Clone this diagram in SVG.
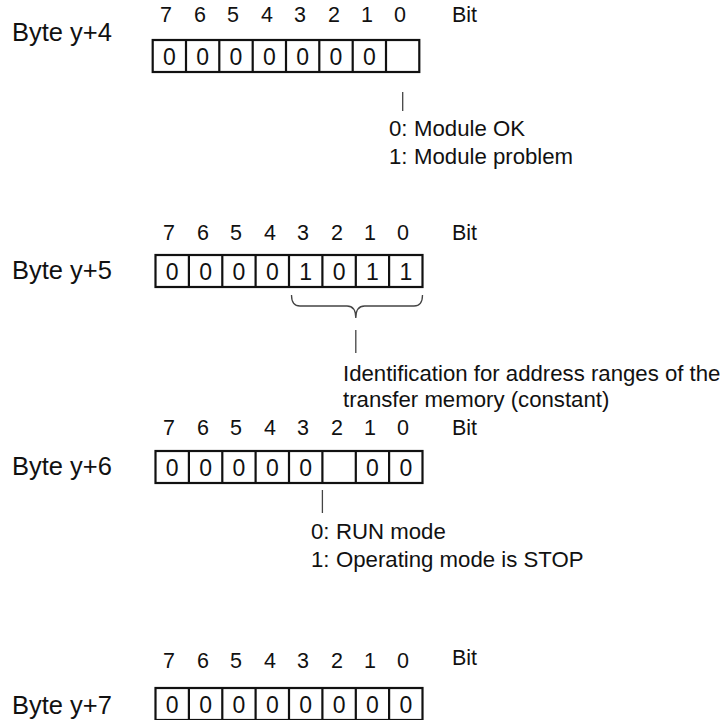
<svg xmlns="http://www.w3.org/2000/svg" width="722" height="720" viewBox="0 0 722 720">
<style>
text{font-family:"Liberation Sans",Arial,sans-serif;fill:#111}
.byte{font-size:25.5px}
.lbl{font-size:21.5px;text-anchor:middle}
.bit{font-size:21.5px}
.val{font-size:23px;text-anchor:middle}
.desc{font-size:22.2px}
.cell{fill:#fff;stroke:#111;stroke-width:2.2}
.conn{fill:none;stroke:#444;stroke-width:1.3}
</style>
<rect width="722" height="720" fill="#fff"/>

<g id="byte4">
<text class="byte" x="12" y="41">Byte y+4</text>
<text class="lbl" x="166" y="22">7</text><text class="lbl" x="200" y="22">6</text><text class="lbl" x="233" y="22">5</text><text class="lbl" x="267" y="22">4</text><text class="lbl" x="300" y="22">3</text><text class="lbl" x="334" y="22">2</text><text class="lbl" x="367" y="22">1</text><text class="lbl" x="400" y="22">0</text>
<text class="bit" x="452" y="22">Bit</text>
<rect class="cell" x="152.7" y="40" width="266.6" height="32"/>
<path class="cell" d="M186 40V72M219.3 40V72M252.7 40V72M286 40V72M319.3 40V72M352.7 40V72M386 40V72"/>
<text class="val" x="169.3" y="64.5">0</text><text class="val" x="202.7" y="64.5">0</text><text class="val" x="236" y="64.5">0</text><text class="val" x="269.3" y="64.5">0</text><text class="val" x="302.7" y="64.5">0</text><text class="val" x="336" y="64.5">0</text><text class="val" x="369.3" y="64.5">0</text>
</g>

<g id="desc4">
<text class="desc" x="389" y="136">0:</text><text class="desc" x="414" y="136">Module OK</text>
<text class="desc" x="389" y="164">1:</text><text class="desc" x="414" y="164">Module problem</text>
</g>

<g id="byte5">
<text class="byte" x="12" y="279">Byte y+5</text>
<text class="lbl" x="169" y="240">7</text><text class="lbl" x="203" y="240">6</text><text class="lbl" x="236" y="240">5</text><text class="lbl" x="270" y="240">4</text><text class="lbl" x="303" y="240">3</text><text class="lbl" x="337" y="240">2</text><text class="lbl" x="370" y="240">1</text><text class="lbl" x="403" y="240">0</text>
<text class="bit" x="452" y="240">Bit</text>
<rect class="cell" x="155.5" y="255" width="267" height="32"/>
<path class="cell" d="M188.9 255V287M222.3 255V287M255.6 255V287M289 255V287M322.4 255V287M355.8 255V287M389.1 255V287"/>
<text class="val" x="172.2" y="279.5">0</text><text class="val" x="205.6" y="279.5">0</text><text class="val" x="239" y="279.5">0</text><text class="val" x="272.3" y="279.5">0</text><text class="val" x="305.7" y="279.5">1</text><text class="val" x="339.1" y="279.5">0</text><text class="val" x="372.5" y="279.5">1</text><text class="val" x="405.8" y="279.5">1</text>
</g>

<g id="desc5">
<text class="desc" x="343" y="381">Identification for address ranges of the</text>
<text class="desc" x="343" y="407">transfer memory (constant)</text>
</g>

<g id="byte6">
<text class="byte" x="12" y="475">Byte y+6</text>
<text class="lbl" x="169" y="435">7</text><text class="lbl" x="203" y="435">6</text><text class="lbl" x="236" y="435">5</text><text class="lbl" x="270" y="435">4</text><text class="lbl" x="303" y="435">3</text><text class="lbl" x="337" y="435">2</text><text class="lbl" x="370" y="435">1</text><text class="lbl" x="403" y="435">0</text>
<text class="bit" x="452" y="435">Bit</text>
<rect class="cell" x="155.5" y="451" width="267" height="32"/>
<path class="cell" d="M188.9 451V483M222.3 451V483M255.6 451V483M289 451V483M322.4 451V483M355.8 451V483M389.1 451V483"/>
<text class="val" x="172.2" y="475.5">0</text><text class="val" x="205.6" y="475.5">0</text><text class="val" x="239" y="475.5">0</text><text class="val" x="272.3" y="475.5">0</text><text class="val" x="305.7" y="475.5">0</text><text class="val" x="372.5" y="475.5">0</text><text class="val" x="405.8" y="475.5">0</text>
</g>

<g id="desc6">
<text class="desc" x="311" y="539">0:</text><text class="desc" x="336" y="539">RUN mode</text>
<text class="desc" x="311" y="567">1:</text><text class="desc" x="336" y="567">Operating mode is STOP</text>
</g>

<g id="byte7">
<text class="byte" x="12" y="714">Byte y+7</text>
<text class="lbl" x="169" y="668">7</text><text class="lbl" x="203" y="668">6</text><text class="lbl" x="236" y="668">5</text><text class="lbl" x="270" y="668">4</text><text class="lbl" x="303" y="668">3</text><text class="lbl" x="337" y="668">2</text><text class="lbl" x="370" y="668">1</text><text class="lbl" x="403" y="668">0</text>
<text class="bit" x="452" y="665">Bit</text>
<rect class="cell" x="155.5" y="688" width="267" height="32"/>
<path class="cell" d="M188.9 688V720M222.3 688V720M255.6 688V720M289 688V720M322.4 688V720M355.8 688V720M389.1 688V720"/>
<text class="val" x="172.2" y="712.5">0</text><text class="val" x="205.6" y="712.5">0</text><text class="val" x="239" y="712.5">0</text><text class="val" x="272.3" y="712.5">0</text><text class="val" x="305.7" y="712.5">0</text><text class="val" x="339.1" y="712.5">0</text><text class="val" x="372.5" y="712.5">0</text><text class="val" x="405.8" y="712.5">0</text>
</g>

<g id="connectors">
<path class="conn" d="M402.7 92V111"/>
<path class="conn" d="M291.5 295Q291.5 306 300 306H347Q355.8 306 355.8 318Q355.8 306 364.6 306H414Q422.5 306 422.5 295"/>
<path class="conn" d="M355.8 330V353"/>
<path class="conn" d="M322.4 490V513"/>
</g>
</svg>
